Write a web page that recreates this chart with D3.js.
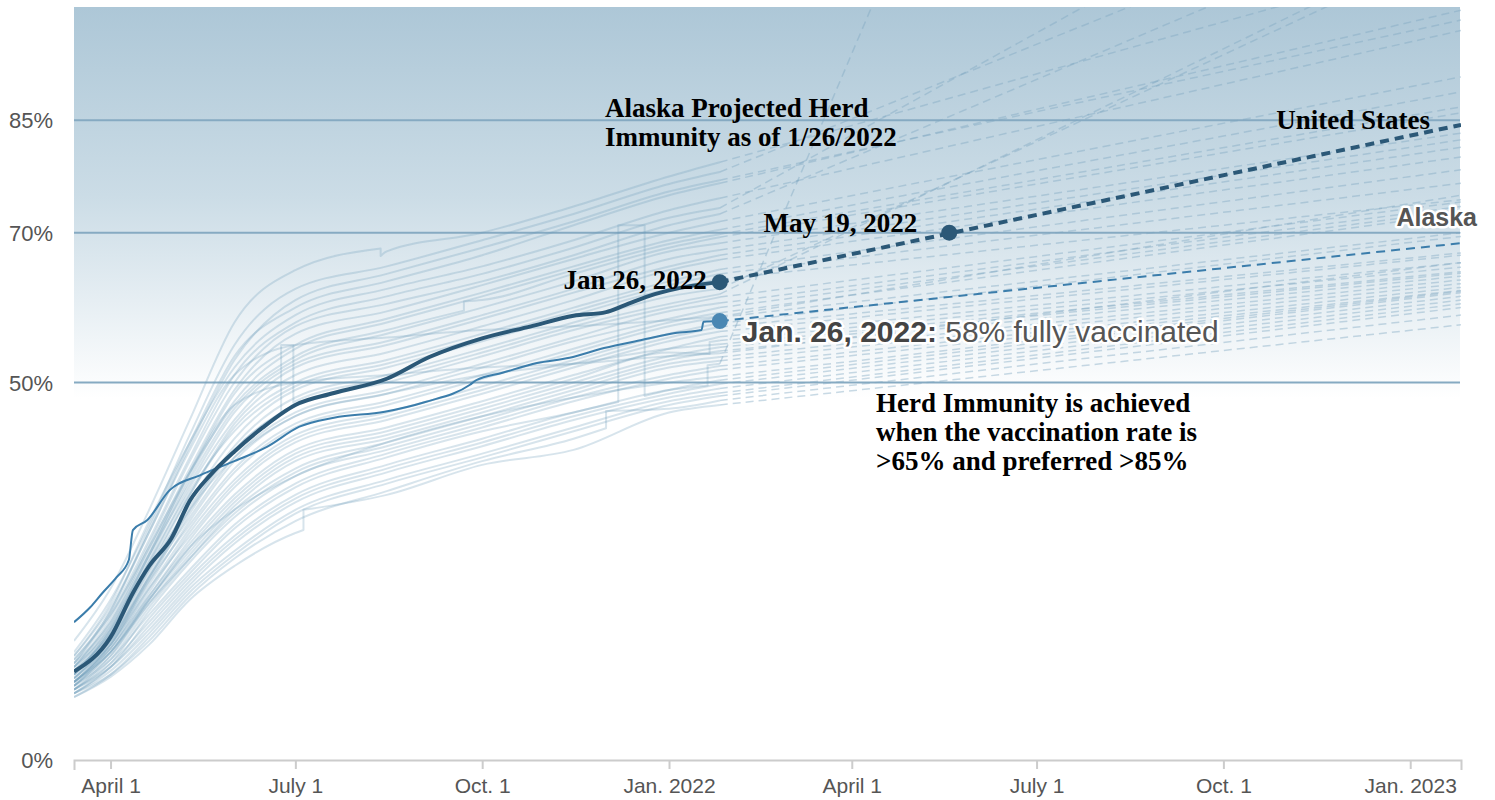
<!DOCTYPE html>
<html><head><meta charset="utf-8">
<script src="https://cdn.jsdelivr.net/npm/d3@7"></script>
<style>
html,body{margin:0;padding:0;background:#fff;}
svg{display:block;}
</style></head><body>
<svg id="chart" width="1495" height="800"></svg>
<script>
// ---------------- DATA ----------------
const xStart = "2021-03-14";
const xEnd = "2023-01-26";
const lastDate = "2022-01-26";
const projectionDate = "2023-01-26";

const xTickDates = ["2021-04-01","2021-07-01","2021-10-01","2022-01-01","2022-04-01","2022-07-01","2022-10-01","2023-01-01"];
const xTickLabels = ["April 1","July 1","Oct. 1","Jan. 2022","April 1","July 1","Oct. 1","Jan. 2023"];
const yTickValues = [0, 50, 70, 85];
const yTickLabels = ["0%", "50%", "70%", "85%"];
const thresholdLines = [50, 70, 85];

const usDates = ["2021-03-14","2021-04-01","2021-04-12","2021-04-20","2021-05-01","2021-05-10","2021-05-20","2021-06-01","2021-06-15","2021-07-01","2021-07-20","2021-08-15","2021-09-05","2021-10-01","2021-10-25","2021-11-15","2021-12-01","2021-12-10","2021-12-25","2022-01-01","2022-01-12","2022-01-26"];
const usValues = [11.4,16.0,21.9,25.5,29.2,34.2,37.6,40.8,44.0,47.0,48.6,50.5,53.4,55.9,57.5,58.9,59.4,60.3,61.8,62.3,62.9,63.4];
const usProjection = 84.4;
const usMilestoneDate = "2022-05-19";
const usMilestoneValue = 70;

const akDates = ["2021-03-14","2021-03-22","2021-03-28","2021-04-04","2021-04-10","2021-04-12","2021-04-19","2021-04-30","2021-05-15","2021-05-31","2021-06-17","2021-07-03","2021-07-20","2021-08-14","2021-09-03","2021-09-25","2021-09-28","2021-10-11","2021-10-28","2021-11-13","2021-11-30","2021-12-19","2022-01-04","2022-01-17","2022-01-18","2022-01-26"];
const akValues = [18.0,20.0,21.9,24.0,26.3,30.3,31.6,35.6,37.6,39.4,41.4,44.1,45.3,46.1,47.4,49.7,50.3,51.3,52.6,53.3,54.6,55.7,56.6,57.0,58.1,58.2];
const akProjection = 68.6;

// other states: values at stateDates
const stateDates = ["2021-03-14","2021-04-01","2021-04-20","2021-05-10","2021-06-01","2021-07-01","2021-08-15","2021-10-01","2021-11-15","2022-01-01","2022-01-26"];
const stateValues = [
  [15.5,22.5,33.0,45.0,58.0,65.0,67.5,70.0,73.5,77.5,79.4],
  [14.0,21.0,31.0,43.0,55.0,62.5,65.5,69.0,72.5,76.5,78.1],
  [13.5,20.0,30.0,41.5,53.0,61.0,64.5,68.0,71.5,75.5,77.0],
  [13.0,19.5,30.5,42.0,53.5,60.0,63.5,67.0,71.0,75.0,76.6],
  [13.5,20.5,31.5,42.0,52.0,59.0,62.5,65.5,69.0,73.0,74.6],
  [12.5,19.0,29.0,40.0,51.0,58.0,61.5,64.5,68.0,72.0,73.3],
  [12.0,18.5,28.5,39.5,50.0,57.5,60.5,63.5,67.0,71.0,72.5],
  [13.0,19.0,28.0,38.5,49.0,56.5,59.5,63.0,66.5,70.0,71.5],
  [12.0,18.0,27.5,38.0,48.5,55.0,58.5,62.0,65.5,69.0,70.4],
  [11.5,17.5,27.0,37.5,47.5,54.5,58.0,61.5,65.0,68.5,69.8],
  [12.5,18.0,28.0,38.0,47.0,53.5,57.0,61.0,64.5,68.0,69.4],
  [11.0,17.0,26.5,37.0,46.5,53.0,56.5,60.0,63.5,67.5,68.6],
  [12.0,17.5,27.0,36.5,46.0,52.5,55.5,59.0,62.5,66.5,67.7],
  [11.5,16.5,26.0,36.0,45.0,52.0,55.0,58.5,62.0,65.5,67.0],
  [10.5,16.0,25.0,35.0,44.5,51.0,54.0,57.5,61.0,65.0,66.4],
  [11.0,16.5,25.5,35.0,44.0,50.0,53.0,56.5,60.0,63.5,65.1],
  [12.0,17.0,26.0,35.5,43.5,49.5,52.5,56.0,59.5,63.0,64.5],
  [10.5,15.5,24.5,34.0,42.5,49.0,52.0,55.5,59.0,62.5,63.8],
  [11.0,16.0,24.0,33.0,41.5,48.0,51.0,54.5,58.0,61.5,62.5],
  [10.0,15.0,23.5,32.5,41.0,47.5,50.5,54.0,57.5,60.5,61.8],
  [11.5,16.5,25.0,33.5,41.0,47.0,50.0,53.5,57.0,60.0,61.4],
  [10.5,15.5,24.0,32.0,40.0,46.0,49.0,52.5,56.0,59.5,60.6],
  [10.0,15.0,23.0,31.5,39.5,45.5,48.5,52.0,55.5,58.5,60.0],
  [11.0,15.5,23.5,31.0,38.5,44.5,47.5,51.0,54.5,58.0,59.3],
  [9.5,14.5,22.5,30.5,38.0,44.0,47.0,50.5,54.0,57.5,58.7],
  [10.0,14.5,22.0,30.0,37.0,43.0,46.0,49.5,53.0,56.5,57.9],
  [10.5,15.0,22.5,29.5,36.5,42.5,45.5,49.0,52.5,56.0,57.4],
  [9.5,14.0,21.5,29.0,36.0,42.0,45.0,48.5,52.0,55.5,56.8],
  [10.0,14.5,21.5,28.5,35.0,41.0,44.0,47.5,51.0,54.5,56.1],
  [9.0,13.5,21.0,28.0,34.5,40.5,43.5,47.0,50.5,54.0,55.6],
  [10.0,14.0,21.0,27.5,34.0,40.0,43.0,46.5,50.0,53.5,54.7],
  [9.5,13.5,20.5,27.0,33.5,39.5,42.5,46.0,49.5,53.0,54.2],
  [9.0,13.0,20.0,26.5,33.0,38.5,42.0,45.5,49.0,52.5,53.4],
  [10.0,14.0,20.5,26.5,32.5,38.0,41.5,45.0,48.5,52.0,52.9],
  [9.0,12.5,19.5,26.0,32.0,37.5,41.0,44.5,48.0,51.0,52.2],
  [9.5,13.0,19.0,25.0,31.0,36.5,40.5,44.0,47.5,50.5,51.7],
  [8.5,12.0,18.5,24.5,30.5,36.0,40.0,43.5,46.0,49.0,52.5],
  [9.0,12.5,18.0,24.0,29.5,35.0,39.0,42.5,46.0,49.0,50.3],
  [8.5,12.0,17.5,23.5,29.0,34.5,38.5,42.0,45.5,48.5,49.8],
  [9.0,12.0,17.0,23.0,28.5,34.0,38.0,41.5,45.0,48.0,49.2],
  [8.5,11.5,16.5,22.5,27.5,33.0,37.0,40.5,44.0,47.5,48.6],
  [8.0,11.0,16.0,22.0,27.0,32.5,36.5,40.0,43.5,47.0,48.2],
  [8.5,11.0,15.5,21.5,26.5,31.5,35.5,39.5,42.5,46.5,47.6],
  [8.0,10.7,15.0,21.0,25.5,29.9,35.0,39.0,41.0,46.0,47.0],
  [12.5,19.5,30.0,41.0,51.0,55.0,56.0,57.0,57.5,58.3,58.8],
  [11.0,17.0,27.0,38.0,47.0,50.0,51.0,52.0,52.5,53.5,53.9],
  [10.0,15.0,24.0,33.0,40.0,45.5,48.5,51.0,52.5,54.5,55.1],
  [9.5,14.0,21.0,28.0,33.0,37.5,42.0,45.5,48.0,50.0,50.8]
];
const stateProjections = [107,118,98.4,99.7,97,128,114.5,90.8,88.8,86.8,86,83.3,82.4,81.4,80.1,78.4,76.6,74.4,108.5,110,74.1,73.5,73.0,72.6,70,69.5,67.3,67,66,65.4,64.6,64.2,63.7,63.2,62.7,62.3,285,62,61.5,61,60.5,60,59,57.7,75,66,64.8,62.2];
// reporting revisions: [state index, date, value before, value after]
const stateSteps = [
  [0, "2021-08-12", 67.9, 66.9],
  [43, "2021-07-05", 30.3, 33.0],
  [42, "2021-12-01", 43.9, 46.2],
  [36, "2022-01-20", 49.6, 52.3],
  [37, "2021-12-07", 47.4, 71.0],
  [37, "2021-12-20", 71.0, 48.2],
  [19, "2021-06-24", 45.9, 55.0],
  [19, "2021-06-30", 55.0, 47.3],
  [10, "2021-09-22", 59.6, 60.8],
  [29, "2022-01-21", 53.8, 55.4]
];

// ---------------- CHART ----------------
(function () {
const parse = d3.utcParse("%Y-%m-%d");
const svg = d3.select("#chart");
const pL = 74, pR = 1461, pT = 7, pB = 760;

const x = d3.scaleUtc().domain([parse(xStart), parse(xEnd)]).range([pL, pR]);
const y = d3.scaleLinear().domain([0, 100]).range([757, 8]);

const defs = svg.append("defs");
const grad = defs.append("linearGradient").attr("id", "bg").attr("x1", 0).attr("x2", 0).attr("y1", 0).attr("y2", 1);
grad.append("stop").attr("offset", "0%").attr("stop-color", "#adc7d7");
grad.append("stop").attr("offset", "25%").attr("stop-color", "#cbdce6");
grad.append("stop").attr("offset", "52%").attr("stop-color", "#ffffff");
grad.append("stop").attr("offset", "100%").attr("stop-color", "#ffffff");
defs.append("clipPath").attr("id", "clip").append("rect")
  .attr("x", pL).attr("y", pT).attr("width", pR - pL).attr("height", pB - pT);

svg.append("rect").attr("x", pL).attr("y", pT).attr("width", pR - pL - 1).attr("height", pB - pT)
  .attr("fill", "url(#bg)");

svg.append("g").selectAll("line").data(thresholdLines).join("line")
  .attr("x1", pL).attr("x2", pR - 1)
  .attr("y1", d => y(d)).attr("y2", d => y(d))
  .attr("stroke", "#86aac2").attr("stroke-width", 2);

const sans = "'Helvetica Neue', Helvetica, Arial, 'Liberation Sans', sans-serif";
const serif = "'Liberation Serif', 'Times New Roman', Times, serif";

svg.append("g").selectAll("text").data(yTickValues).join("text")
  .attr("x", 53).attr("y", d => (d === 0 ? pB : y(d)) + 8)
  .attr("text-anchor", "end")
  .attr("font-family", sans)
  .attr("font-size", 22).attr("fill", "#555")
  .text((d, i) => yTickLabels[i]);

const xAxis = d3.axisBottom(x)
  .tickValues(xTickDates.map(parse))
  .tickFormat((d, i) => xTickLabels[i])
  .tickSizeInner(9).tickSizeOuter(10).tickPadding(9);
const gx = svg.append("g").attr("transform", `translate(0,${pB})`).call(xAxis);
gx.select(".domain").attr("stroke", "#cccccc").attr("stroke-width", 2);
gx.selectAll(".tick line").attr("stroke", "#cccccc").attr("stroke-width", 2);
gx.selectAll(".tick text").attr("fill", "#555").attr("font-size", 21).attr("font-family", sans);

const plot = svg.append("g").attr("clip-path", "url(#clip)");

const smooth = d3.line().x(d => x(d[0])).y(d => y(d[1])).curve(d3.curveMonotoneX);
const straight = d3.line().x(d => x(d[0])).y(d => y(d[1]));

function pathWithSteps(points) {
  const runs = [[points[0]]];
  for (let i = 1; i < points.length; i++) {
    if (+points[i][0] === +points[i - 1][0]) runs.push([points[i]]);
    else runs[runs.length - 1].push(points[i]);
  }
  return runs.map((r, k) => {
    const s = r.length > 1 ? smooth(r) : `M${x(r[0][0])},${y(r[0][1])}`;
    return k === 0 ? s : "L" + s.slice(1);
  }).join("");
}

const stateSeries = stateValues.map((vals, i) => {
  const pts = stateDates.map((d, j) => [parse(d), vals[j]]);
  stateSteps.filter(s => s[0] === i).forEach(s => {
    pts.push([parse(s[1]), s[2]]);
    pts.push([parse(s[1]), s[3]]);
  });
  pts.sort((a, b) => a[0] - b[0]);
  return pts;
});

plot.append("g").selectAll("path").data(stateSeries).join("path")
  .attr("d", pathWithSteps)
  .attr("fill", "none").attr("stroke", "#6f9dbb").attr("stroke-opacity", 0.28)
  .attr("stroke-width", 2).attr("stroke-linejoin", "round");

plot.append("g").selectAll("path").data(stateValues).join("path")
  .attr("d", (vals, i) => straight([[parse(lastDate), vals[vals.length - 1]], [parse(projectionDate), stateProjections[i]]]))
  .attr("fill", "none").attr("stroke", "#7fa8c2").attr("stroke-opacity", 0.42)
  .attr("stroke-width", 1.5).attr("stroke-dasharray", "8,5");

const akPts = akDates.map((d, i) => [parse(d), akValues[i]]);
const akLast = akPts[akPts.length - 1];
plot.append("path").attr("d", smooth(akPts))
  .attr("fill", "none").attr("stroke", "#3b7dab").attr("stroke-width", 2);
plot.append("path").attr("d", straight([akLast, [parse(projectionDate), akProjection]]))
  .attr("fill", "none").attr("stroke", "#3b7dab").attr("stroke-width", 2).attr("stroke-dasharray", "9,6");

const usPts = usDates.map((d, i) => [parse(d), usValues[i]]);
const usLast = usPts[usPts.length - 1];
plot.append("path").attr("d", smooth(usPts))
  .attr("fill", "none").attr("stroke", "#2b5877").attr("stroke-width", 4).attr("stroke-linejoin", "round");
plot.append("path").attr("d", straight([usLast, [parse(projectionDate), usProjection]]))
  .attr("fill", "none").attr("stroke", "#2b5877").attr("stroke-width", 4).attr("stroke-dasharray", "9,6");

svg.append("circle").attr("cx", x(akLast[0])).attr("cy", y(akLast[1])).attr("r", 8).attr("fill", "#4a87b3");
svg.append("circle").attr("cx", x(usLast[0])).attr("cy", y(usLast[1])).attr("r", 8).attr("fill", "#2b5877");
svg.append("circle").attr("cx", x(parse(usMilestoneDate))).attr("cy", y(usMilestoneValue)).attr("r", 8).attr("fill", "#2b5877");

function serifText(lines, tx, ty, anchor, lh) {
  const t = svg.append("text").attr("font-family", serif).attr("font-weight", "bold")
    .attr("font-size", 27).attr("fill", "#000").attr("text-anchor", anchor);
  lines.forEach((l, i) => t.append("tspan").attr("x", tx).attr("y", ty + i * (lh || 29)).text(l));
  return t;
}
serifText(["Alaska Projected Herd", "Immunity as of 1/26/2022"], 605, 117, "start", 29);
serifText(["United States"], x(parse(projectionDate)) - 31, y(85) + 9, "end");
serifText(["May 19, 2022"], x(parse(usMilestoneDate)) - 32, y(usMilestoneValue) - 1, "end");
serifText(["Jan 26, 2022"], x(usLast[0]) - 13, y(usLast[1]) + 7, "end");
serifText(["Herd Immunity is achieved", "when the vaccination rate is", ">65% and preferred >85%"], 876, 412, "start", 29);

const akLabel = svg.append("text").attr("x", x(akLast[0]) + 22).attr("y", y(akLast[1]) + 21)
  .attr("font-family", sans).attr("font-size", 30)
  .attr("stroke", "#fff").attr("stroke-width", 5).attr("paint-order", "stroke").attr("stroke-linejoin", "round");
akLabel.append("tspan").attr("font-weight", "bold").attr("fill", "#444").text("Jan. 26, 2022:");
akLabel.append("tspan").attr("fill", "#555").text(" 58% fully vaccinated");

svg.append("text").attr("x", pR + 16).attr("y", y(akProjection) - 17).attr("text-anchor", "end")
  .attr("font-family", sans).attr("font-size", 25).attr("font-weight", "bold").attr("fill", "#555")
  .attr("stroke", "#fff").attr("stroke-width", 5).attr("paint-order", "stroke").attr("stroke-linejoin", "round")
  .text("Alaska");
})();
</script>
</body></html>
